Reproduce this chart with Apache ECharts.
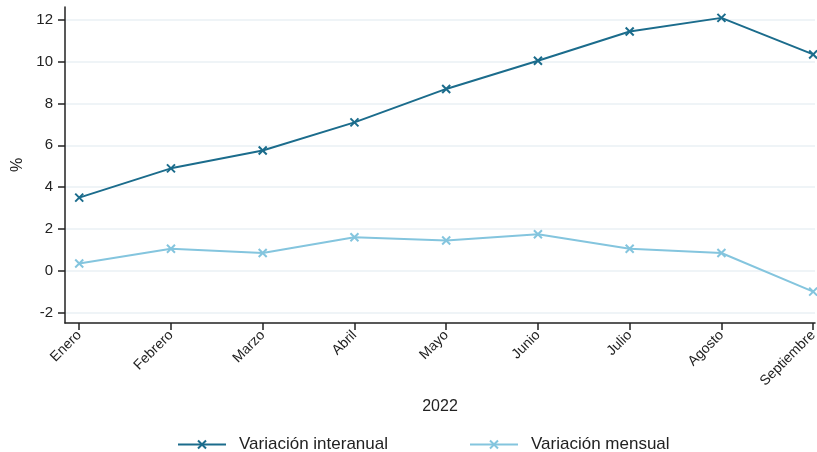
<!DOCTYPE html>
<html>
<head>
<meta charset="utf-8">
<script src="https://cdn.jsdelivr.net/npm/echarts@6/dist/echarts.min.js"></script>
<style>
  html, body { margin: 0; padding: 0; background: #fff; }
  #chart { width: 817px; height: 452px; }
</style>
</head>
<body>
<div id="chart"></div>
<script>
// datos
const meses = ['Enero', 'Febrero', 'Marzo', 'Abril', 'Mayo', 'Junio', 'Julio', 'Agosto', 'Septiembre'];
const interanual = [3.5, 4.9, 5.75, 7.1, 8.7, 10.05, 11.45, 12.1, 10.35];
const mensual = [0.35, 1.05, 0.85, 1.6, 1.45, 1.75, 1.05, 0.85, -1.0];
const yTicks = [-2, 0, 2, 4, 6, 8, 10, 12];

const oscuro = '#1b6c8c';
const claro = '#84c5de';
const cruz = 'path://M0,0L10,10M10,0L0,10';
const fuente = '"Liberation Sans", Arial, sans-serif';

const xIdx = meses.map((m, i) => i);
const pares = arr => arr.map((v, i) => [i, v]);

const myChart = echarts.init(document.getElementById('chart'));

let option = {
	animation: false,
	textStyle: { fontFamily: fuente },
	grid: { left: 65, right: 2, top: 7, bottom: 129, outerBoundsMode: 'none', containLabel: false },
	legend: {
		left: 172, top: 431,
		itemWidth: 48, itemHeight: 10, itemGap: 81,
		textStyle: { fontSize: 17, color: '#222', padding: [0, 0, 0, 8] },
		data: ['Variación interanual', 'Variación mensual']
	},
	xAxis: {
		type: 'value',
		min: -0.155, max: 8.02,
		name: '2022', nameLocation: 'middle', nameGap: 76,
		nameTextStyle: { fontSize: 16, color: '#222' },
		axisLine: { onZero: false, lineStyle: { color: '#222', width: 1.5 } },
		axisTick: { customValues: xIdx, length: 7, lineStyle: { color: '#222', width: 1.5 } },
		axisLabel: {
			customValues: xIdx, rotate: 45, fontSize: 14, color: '#222', margin: 10,
			formatter: v => meses[Math.round(v)]
		},
		splitLine: { show: false }
	},
	yAxis: {
		type: 'value',
		min: -2.5, max: 12.62,
		name: '%', nameLocation: 'middle', nameGap: 38, nameRotate: 90,
		nameTextStyle: { fontSize: 16, color: '#222' },
		axisLine: { show: true, onZero: false, lineStyle: { color: '#222', width: 1.5 } },
		axisTick: { show: true, customValues: yTicks, length: 7, lineStyle: { color: '#222', width: 1.5 } },
		axisLabel: { customValues: yTicks, fontSize: 15, color: '#222', margin: 12 },
		splitLine: { show: true, lineStyle: { color: '#eaf1f4', width: 1.5 } }
	},
	series: [
		{
			name: 'Variación interanual', type: 'line',
			data: pares(interanual),
			symbol: cruz, symbolSize: 8,
			lineStyle: { color: oscuro, width: 2 },
			itemStyle: { color: 'none', borderColor: oscuro, borderWidth: 2 }
		},
		{
			name: 'Variación mensual', type: 'line',
			data: pares(mensual),
			symbol: cruz, symbolSize: 8,
			lineStyle: { color: claro, width: 2 },
			itemStyle: { color: 'none', borderColor: claro, borderWidth: 2 }
		}
	]
};

myChart.setOption(option);
</script>
</body>
</html>
